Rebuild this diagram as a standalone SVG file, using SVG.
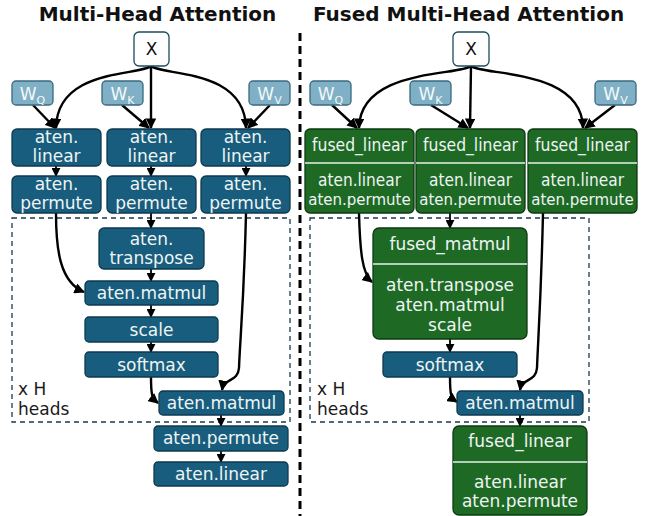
<svg xmlns="http://www.w3.org/2000/svg" width="645" height="516" viewBox="0 0 645 516">
  <defs>
    <marker id="ah" viewBox="0 0 10 10" refX="9" refY="5" markerWidth="4.4" markerHeight="4.4" orient="auto" markerUnits="strokeWidth">
      <path d="M0,0 L10,5 L0,10 z" fill="#000"/>
    </marker>
    <marker id="ahs" viewBox="0 0 10 10" refX="9" refY="5" markerWidth="5" markerHeight="5" orient="auto" markerUnits="strokeWidth">
      <path d="M0,0 L10,5 L0,10 z" fill="#000"/>
    </marker>
  </defs>
  <style>
    text { font-family: "DejaVu Sans", Verdana, sans-serif; }
    .title { font-size: 20px; font-weight: bold; fill: #111; text-anchor: middle; }
    .op { fill: #185d7d; stroke: #0d3a4f; stroke-width: 1.3; }
    .w { fill: #7fb0c6; stroke: #3a6a80; stroke-width: 1.3; }
    .fused { fill: #1e6a25; stroke: #0d3a12; stroke-width: 1.3; }
    .in { fill: #fff; stroke: #1c4a5e; stroke-width: 1.3; }
    .t { font-size: 17px; fill: #eef4f4; text-anchor: middle; }
    .tn { font-size: 15px; fill: #eef4f4; text-anchor: middle; }
    .tw { font-size: 17px; fill: #f4f8f8; text-anchor: middle; }
    .sub { font-size: 11px; }
    .tx { font-size: 17px; fill: #111; text-anchor: middle; }
    .lbl { font-size: 17px; fill: #1a1a1a; }
    .sep { stroke: #e8f0e8; stroke-width: 1.3; }
    .heads { fill: none; stroke: #183a4e; stroke-width: 1.3; stroke-dasharray: 5 4; }
    .e { fill: none; stroke: #000; stroke-width: 2.4; marker-end: url(#ah); }
    .s { fill: none; stroke: #000; stroke-width: 1.8; marker-end: url(#ahs); }
    .divider { stroke: #000; stroke-width: 3; stroke-dasharray: 8 5; }
  </style>

  <!-- titles -->
  <text class="title" x="157.5" y="21">Multi-Head Attention</text>
  <text class="title" x="468.5" y="21">Fused Multi-Head Attention</text>

  <!-- panel divider -->
  <line class="divider" x1="300" y1="33" x2="300" y2="516"/>

  <!-- per-head regions -->
  <rect class="heads" x="12" y="218" width="278" height="204"/>
  <rect class="heads" x="310" y="218" width="279" height="204"/>
  <text class="lbl" x="18" y="395">x H</text>
  <text class="lbl" x="18" y="415">heads</text>
  <text class="lbl" x="317" y="395">x H</text>
  <text class="lbl" x="317" y="415">heads</text>

  <!-- connectors -->
  <g id="edges">
    <!-- left: unfused -->
    <path class="e" d="M151,66 C140,76 57,68 56,128"/>
    <path class="e" d="M151,66 L151,128"/>
    <path class="e" d="M151,66 C162,76 245,68 246,128"/>
    <path class="e" d="M33,105 L55,128"/>
    <path class="e" d="M122,105 L149,128"/>
    <path class="e" d="M270,105 L248,128"/>
    <path class="s" d="M56,166 L56,176"/>
    <path class="s" d="M151,166 L151,176"/>
    <path class="s" d="M246,166 L246,176"/>
    <path class="s" d="M151,213 L151,228"/>
    <path class="e" d="M56,213 C56,250 60,282 84,292"/>
    <path class="s" d="M151,269 L151,281"/>
    <path class="s" d="M151,305 L151,317"/>
    <path class="s" d="M151,342 L151,352"/>
    <path class="e" d="M151,377 C151,396 152,398 158,403"/>
    <path class="e" d="M246,213 C244,300 240,340 239,368 C238,382 224,378 222,390"/>
    <path class="s" d="M221,415 L221,426"/>
    <path class="s" d="M221,451 L221,462"/>

    <!-- right: fused -->
    <path class="e" d="M471,66 C460,76 360,68 359,128"/>
    <path class="e" d="M471,66 L470,128"/>
    <path class="e" d="M471,66 C482,76 582,68 583,128"/>
    <path class="e" d="M332,105 L357,128"/>
    <path class="e" d="M431,105 L468,128"/>
    <path class="e" d="M615,105 L585,128"/>
    <path class="s" d="M450,213 L450,228"/>
    <path class="e" d="M359,213 C360,250 362,274 372,282"/>
    <path class="s" d="M450,339 L450,352"/>
    <path class="e" d="M450,377 C450,396 451,398 457,402"/>
    <path class="e" d="M543,213 C541,300 538,340 537,368 C536,382 522,378 520,390"/>
    <path class="s" d="M520,415 L520,426"/>
  </g>

  <!-- left panel nodes -->
  <g id="x-left"><rect class="in" x="134" y="32" width="35" height="34" rx="5"/><text class="tx" x="151.5" y="55">X</text></g>
  <g id="wq-left"><rect class="w" x="12" y="81" width="41" height="24" rx="4"/><text class="tw" x="32.5" y="100">W<tspan class="sub" dy="4">Q</tspan></text></g>
  <g id="wk-left"><rect class="w" x="102" y="81" width="41" height="24" rx="4"/><text class="tw" x="122.5" y="100">W<tspan class="sub" dy="4">K</tspan></text></g>
  <g id="wv-left"><rect class="w" x="249" y="81" width="41" height="24" rx="4"/><text class="tw" x="269.5" y="100">W<tspan class="sub" dy="4">V</tspan></text></g>

  <g id="linear-q"><rect class="op" x="12" y="129" width="89" height="37" rx="5"/><text class="t" x="56.5" y="143">aten.</text><text class="t" x="56.5" y="162">linear</text></g>
  <g id="linear-k"><rect class="op" x="107" y="129" width="89" height="37" rx="5"/><text class="t" x="151.5" y="143">aten.</text><text class="t" x="151.5" y="162">linear</text></g>
  <g id="linear-v"><rect class="op" x="201" y="129" width="89" height="37" rx="5"/><text class="t" x="245.5" y="143">aten.</text><text class="t" x="245.5" y="162">linear</text></g>

  <g id="permute-q"><rect class="op" x="12" y="176" width="89" height="37" rx="5"/><text class="t" x="56.5" y="190">aten.</text><text class="t" x="56.5" y="209">permute</text></g>
  <g id="permute-k"><rect class="op" x="107" y="176" width="89" height="37" rx="5"/><text class="t" x="151.5" y="190">aten.</text><text class="t" x="151.5" y="209">permute</text></g>
  <g id="permute-v"><rect class="op" x="201" y="176" width="89" height="37" rx="5"/><text class="t" x="245.5" y="190">aten.</text><text class="t" x="245.5" y="209">permute</text></g>

  <g id="transpose"><rect class="op" x="99" y="228" width="105" height="41" rx="5"/><text class="t" x="151.5" y="245">aten.</text><text class="t" x="151.5" y="264">transpose</text></g>
  <g id="matmul-qk"><rect class="op" x="85" y="281" width="133" height="24" rx="4"/><text class="t" x="151.5" y="299">aten.matmul</text></g>
  <g id="scale"><rect class="op" x="85" y="317" width="133" height="25" rx="4"/><text class="t" x="151.5" y="336">scale</text></g>
  <g id="softmax-left"><rect class="op" x="85" y="352" width="133" height="25" rx="4"/><text class="t" x="151.5" y="371">softmax</text></g>
  <g id="matmul-av-left"><rect class="op" x="159" y="391" width="125" height="24" rx="4"/><text class="t" x="221.5" y="409">aten.matmul</text></g>
  <g id="permute-out"><rect class="op" x="154" y="426" width="134" height="25" rx="4"/><text class="t" x="221" y="444">aten.permute</text></g>
  <g id="linear-out"><rect class="op" x="154" y="462" width="134" height="24" rx="4"/><text class="t" x="221" y="480">aten.linear</text></g>

  <!-- right panel nodes -->
  <g id="x-right"><rect class="in" x="453" y="32" width="36" height="34" rx="5"/><text class="tx" x="471" y="55">X</text></g>
  <g id="wq-right"><rect class="w" x="310" y="81" width="41" height="24" rx="4"/><text class="tw" x="330.5" y="100">W<tspan class="sub" dy="4">Q</tspan></text></g>
  <g id="wk-right"><rect class="w" x="410" y="81" width="41" height="24" rx="4"/><text class="tw" x="430.5" y="100">W<tspan class="sub" dy="4">K</tspan></text></g>
  <g id="wv-right"><rect class="w" x="595" y="81" width="41" height="24" rx="4"/><text class="tw" x="615.5" y="100">W<tspan class="sub" dy="4">V</tspan></text></g>

  <!-- narrow fused boxes: labels set smaller / squeezed to fit -->
  <g id="fused-linear-q"><rect class="fused" x="305" y="129" width="109" height="84" rx="5"/><line class="sep" x1="305" y1="163" x2="414" y2="163"/><text class="t" x="359.5" y="151" textLength="95" lengthAdjust="spacingAndGlyphs">fused_linear</text><text class="t" x="359.5" y="186" textLength="83" lengthAdjust="spacingAndGlyphs">aten.linear</text><text class="tn" x="359.5" y="205">aten.permute</text></g>
  <g id="fused-linear-k"><rect class="fused" x="416" y="129" width="109" height="84" rx="5"/><line class="sep" x1="416" y1="163" x2="525" y2="163"/><text class="t" x="470.5" y="151" textLength="95" lengthAdjust="spacingAndGlyphs">fused_linear</text><text class="t" x="470.5" y="186" textLength="83" lengthAdjust="spacingAndGlyphs">aten.linear</text><text class="tn" x="470.5" y="205">aten.permute</text></g>
  <g id="fused-linear-v"><rect class="fused" x="528" y="129" width="109" height="84" rx="5"/><line class="sep" x1="528" y1="163" x2="637" y2="163"/><text class="t" x="582.5" y="151" textLength="95" lengthAdjust="spacingAndGlyphs">fused_linear</text><text class="t" x="582.5" y="186" textLength="83" lengthAdjust="spacingAndGlyphs">aten.linear</text><text class="tn" x="582.5" y="205">aten.permute</text></g>

  <g id="fused-matmul"><rect class="fused" x="373" y="228" width="154" height="111" rx="6"/><line class="sep" x1="373" y1="264" x2="527" y2="264"/><text class="t" x="450" y="250">fused_matmul</text><text class="t" x="450" y="291">aten.transpose</text><text class="t" x="450" y="311">aten.matmul</text><text class="t" x="450" y="331">scale</text></g>
  <g id="softmax-right"><rect class="op" x="383" y="352" width="134" height="25" rx="4"/><text class="t" x="450" y="371">softmax</text></g>
  <g id="matmul-av-right"><rect class="op" x="457" y="391" width="126" height="24" rx="4"/><text class="t" x="520" y="409">aten.matmul</text></g>
  <g id="fused-linear-out"><rect class="fused" x="453" y="426" width="134" height="89" rx="6"/><line class="sep" x1="453" y1="462" x2="587" y2="462"/><text class="t" x="520" y="447">fused_linear</text><text class="t" x="520" y="488">aten.linear</text><text class="t" x="520" y="507">aten.permute</text></g>
</svg>
